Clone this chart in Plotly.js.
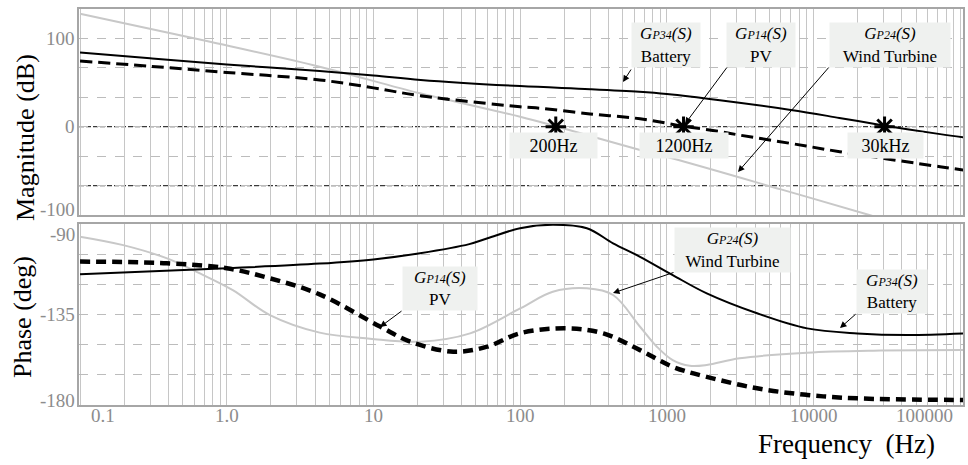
<!DOCTYPE html>
<html>
<head>
<meta charset="utf-8">
<script src="https://cdn.plot.ly/plotly-3.0.1.min.js"></script>
<style>html,body{margin:0;padding:0;background:#fff;}#chart{width:968px;height:465px;}</style>
</head>
<body>
<div id="chart"></div>
<script>
// ---------- data ----------
// Magnitude (dB)
const magBatFreq = [0.1, 0.3, 1, 4.3, 10, 21, 100, 300, 650, 1000, 2300, 7000, 15000, 30000, 73000, 105000];
const magBatDb   = [84, 77.5, 70.5, 63, 58, 53, 46, 42.5, 39.5, 37, 30, 19, 10, 1.5, -8.4, -12];

const magPvFreq = [0.1, 0.3, 1, 4.3, 10, 21, 100, 140, 300, 657, 1280, 2300, 3134, 6918, 15100, 72800, 105000];
const magPvDb   = [74.4, 68.5, 61.5, 53, 44, 35, 22.6, 20.8, 14.5, 9, 0.8, -5.5, -9.5, -18.8, -28.3, -45.3, -49];

const magWindFreq = [0.1, 0.73, 4.3, 20.8, 100, 173, 657, 1100, 6000, 24000, 40000];
const magWindDb   = [128, 97, 68, 37.8, 11.3, 0.8, -26.4, -36, -71, -100, -111];

// crossover points (0 dB)
const crossFreq  = [175, 1300, 30500];
const crossDb    = [0, 0, 0];
const crossLabel = ['200Hz', '1200Hz', '30kHz'];

// Phase (deg)
const phBatFreq = [0.1, 1, 4.3, 10, 20.8, 45, 60, 100, 167, 285, 430, 657, 1097, 1872, 4120, 9040, 19900, 43600, 105000];
const phBatDeg  = [-115, -112, -109.7, -107.6, -104.5, -100, -97.1, -92.1, -90.4, -92.1, -99.6, -106.3, -115.4, -124.5, -134.4, -141.9, -144.4, -145.2, -144.4];

const phPvFreq = [0.1, 0.39, 1, 1.97, 4.3, 11.1, 17.8, 35, 59.6, 100, 209, 369, 657, 1097, 1872, 4120, 9040, 19900, 105000];
const phPvDeg  = [-108.7, -109.5, -112, -117, -125, -141, -148.5, -153.5, -151, -144.3, -141.9, -144.4, -152.7, -161, -166, -171.7, -175, -176.7, -177.5];

const phWindFreq = [0.1, 0.197, 0.392, 0.657, 1.1, 1.97, 4.3, 9.5, 20.8, 45.6, 100, 167, 285, 430, 657, 855, 1097, 1434, 1872, 3134, 9040, 25600, 105000];
const phWindDeg  = [-96.3, -100.5, -107.1, -114.6, -122.9, -135.3, -144, -147, -148.5, -144.4, -132, -123.7, -122, -125.3, -141.1, -151, -157.7, -160.5, -160.1, -156.8, -154, -153, -152.7];

// tick labels
const freqTicks     = [0.1, 1, 10, 100, 1000, 10000, 100000];
const freqTickText  = ['0.1', '1.0', '10', '100', '1000', '10000', '100000'];
const magTicks      = [100, 0, -100];
const phaseTicks    = [-90, -135, -180];

// ---------- layout helpers ----------
const W = 968, H = 465, L = 79, R = 5, T = 9, B = 60;
const PW = W - L - R, PH = H - T - B;
const px = v => (v - L) / PW;           // pixel x -> paper
const py = v => (H - B - v) / PH;       // pixel y -> paper
const serif = "'Liberation Serif', 'Times New Roman', serif";
const gray = '#c8c8c8';

const traces = [
  {x: magWindFreq, y: magWindDb, xaxis: 'x', yaxis: 'y', mode: 'lines', line: {color: gray, width: 2, shape: 'spline'}},
  {x: magPvFreq, y: magPvDb, xaxis: 'x', yaxis: 'y', mode: 'lines', line: {color: '#000', width: 3, dash: '12px,6px', shape: 'spline'}},
  {x: magBatFreq, y: magBatDb, xaxis: 'x', yaxis: 'y', mode: 'lines', line: {color: '#000', width: 2, shape: 'spline'}},
  {x: crossFreq, y: crossDb, xaxis: 'x', yaxis: 'y', mode: 'markers',
   marker: {symbol: 'asterisk-open', size: 17, color: '#000', line: {color: '#000', width: 3}}},
  {x: phWindFreq, y: phWindDeg, xaxis: 'x2', yaxis: 'y2', mode: 'lines', line: {color: gray, width: 2, shape: 'spline'}},
  {x: phPvFreq, y: phPvDeg, xaxis: 'x2', yaxis: 'y2', mode: 'lines', line: {color: '#000', width: 4.5, dash: '10px,6px', shape: 'spline'}},
  {x: phBatFreq, y: phBatDeg, xaxis: 'x2', yaxis: 'y2', mode: 'lines', line: {color: '#000', width: 2, shape: 'spline'}}
];

const xRange = [-1.007, 5.019];
const xCommon = {
  type: 'log', range: xRange, dtick: 'D1', showticklabels: false, ticks: '',
  showgrid: true, gridcolor: '#c6c6c6', gridwidth: 1,
  showline: true, mirror: true, linecolor: '#a6a6a6', linewidth: 2, zeroline: false
};
const yCommon = {
  showticklabels: false, ticks: '', showgrid: true, gridcolor: '#bcbcbc', griddash: 'dash',
  showline: true, mirror: true, linecolor: '#a6a6a6', linewidth: 2, zeroline: false
};

const ann = [];
// axis titles
ann.push({xref: 'paper', yref: 'paper', x: px(25), y: py(138), text: 'Magnitude (dB)', textangle: -90,
  showarrow: false, xanchor: 'center', yanchor: 'middle', font: {family: serif, size: 26, color: '#000'}});
ann.push({xref: 'paper', yref: 'paper', x: px(22), y: py(317), text: 'Phase (deg)', textangle: -90,
  showarrow: false, xanchor: 'center', yanchor: 'middle', font: {family: serif, size: 26, color: '#000'}});
ann.push({xref: 'paper', yref: 'paper', x: px(846), y: py(444), text: 'Frequency&nbsp;&nbsp;(Hz)',
  showarrow: false, xanchor: 'center', yanchor: 'middle', font: {family: serif, size: 27, color: '#000'}});

// x tick labels
freqTicks.forEach((f, i) => {
  const last = i === freqTicks.length - 1, first = i === 0;
  ann.push({xref: 'x2', yref: 'paper', x: Math.log10(f), y: py(416), text: freqTickText[i], showarrow: false,
    xanchor: first ? 'left' : (last ? 'right' : 'center'), xshift: first ? 9 : (last ? -5 : 0),
    yanchor: 'middle', font: {family: serif, size: 19, color: '#8c8c8c'}});
});
// y tick labels
const ytick = (vals, yref, shifts) => vals.forEach((v, i) => ann.push({
  xref: 'paper', yref: yref, x: 0, y: v, text: String(v), showarrow: false, xanchor: 'right', xshift: -2,
  yanchor: 'middle', yshift: shifts[i], font: {family: serif, size: 19, color: '#8c8c8c'}}));
ytick(magTicks, 'y', [0, 0, 6]);
ytick(phaseTicks, 'y2', [-10, 0, 5]);

// label boxes
const boxBg = '#eff1ef';
const gLabel = (sub, name) => '<i>G<span style="font-size:12px">' + sub + '</span>(S)</i><br>' + name;
const box = (cx, cy, w, h, text, size) => ann.push({xref: 'paper', yref: 'paper', x: px(cx), y: py(cy),
  text: text, showarrow: false, xanchor: 'center', yanchor: 'middle', width: w, height: h, bgcolor: boxBg,
  borderpad: 0, font: {family: serif, size: size, color: '#000'}});
box(666, 45, 68, 44, gLabel('P34', 'Battery'), 17);
box(761, 45, 68, 44, gLabel('P14', 'PV'), 17);
box(890, 45, 120, 44, gLabel('P24', 'Wind Turbine'), 17);
const crossBoxes = [[553, 87], [684, 88], [885, 75]];
crossLabel.forEach((t, i) => box(crossBoxes[i][0], 145.5, crossBoxes[i][1], 25, t, 18));
box(440, 288.5, 74, 43, gLabel('P14', 'PV'), 17);
box(732, 250, 115, 44, gLabel('P24', 'Wind Turbine'), 17);
box(892, 291.5, 70, 43, gLabel('P34', 'Battery'), 17);

// arrows: tip pixel (tx,ty), tail pixel (sx,sy)
const arrow = (tx, ty, sx, sy) => ann.push({xref: 'paper', yref: 'paper', x: px(tx), y: py(ty), text: '',
  showarrow: true, ax: sx - tx, ay: sy - ty, arrowhead: 2, arrowsize: 1.3, arrowwidth: 1, arrowcolor: '#000', standoff: 0});
arrow(623, 82, 632, 68);
arrow(685, 124, 728, 66);
arrow(738, 172, 830, 66);
arrow(380, 327, 403, 310);
arrow(613, 293, 675, 272);
arrow(840, 328, 857, 313);

const shapes = [0, -200 / 3].map(v => ({
  type: 'line', xref: 'paper', yref: 'y', x0: 0, x1: 1, y0: v, y1: v, layer: 'between',
  line: {color: '#3a3a3a', width: 1.3, dash: '5px,2px'}}));

const layout = {
  width: W, height: H, margin: {l: L, r: R, t: T, b: B, pad: 0},
  paper_bgcolor: '#fff', plot_bgcolor: '#fff', showlegend: false,
  xaxis: Object.assign({}, xCommon, {anchor: 'y', domain: [0, 1]}),
  yaxis: Object.assign({}, yCommon, {domain: [py(215), 1], range: [-100, 400 / 3], tick0: 0, dtick: 100 / 3}),
  xaxis2: Object.assign({}, xCommon, {anchor: 'y2', domain: [0, 1]}),
  yaxis2: Object.assign({}, yCommon, {domain: [0, py(224)], range: [-180, -90], tick0: -180, dtick: 15}),
  annotations: ann, shapes: shapes
};

Plotly.newPlot('chart', traces, layout, {staticPlot: true, displayModeBar: false});
</script>
</body>
</html>
